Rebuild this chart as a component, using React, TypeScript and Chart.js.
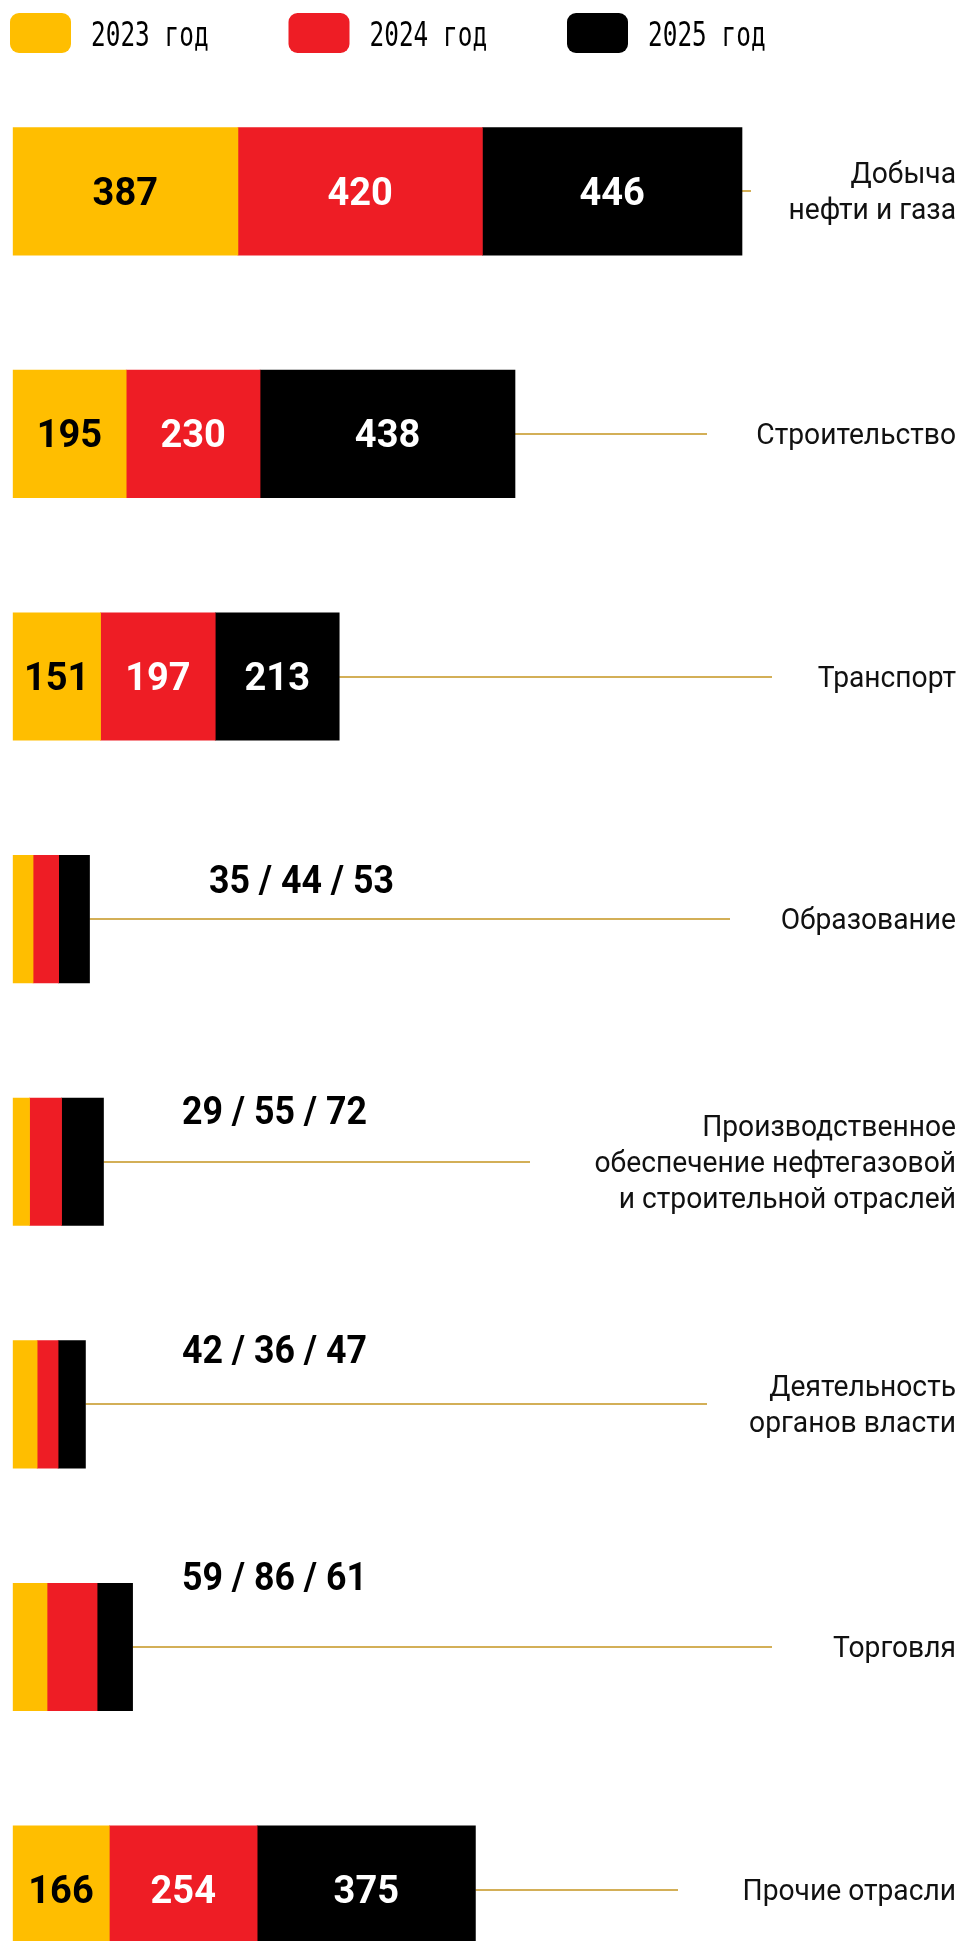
import React, { useEffect, useRef } from 'react';
import { Chart, registerables } from 'chart.js';

Chart.register(...registerables);

// ---------- DATA ----------
const categories: string[][] = [
  ['Добыча', 'нефти и газа'],
  ['Строительство'],
  ['Транспорт'],
  ['Образование'],
  ['Производственное', 'обеспечение нефтегазовой', 'и строительной отраслей'],
  ['Деятельность', 'органов власти'],
  ['Торговля'],
  ['Прочие отрасли'],
];
const seriesLabels = ['2023 год', '2024 год', '2025 год'];
const values2023 = [387, 195, 151, 35, 29, 42, 59, 166];
const values2024 = [420, 230, 197, 44, 55, 36, 86, 254];
const values2025 = [446, 438, 213, 53, 72, 47, 61, 375];
const series = [values2023, values2024, values2025];

// ---------- STYLE / LAYOUT ----------
const colors = ['#FFBE00', '#EE1D25', '#000000'];
const valueTextColors = ['#000000', '#FFFFFF', '#FFFFFF'];
const connectorColor = '#D3AF57';
// right end (px) of each connector line
const connectorEnds = [751, 707, 772, 730, 530, 707, 772, 678];
// combined label placement for narrow bars: [left x, offset of text centre from bar centre]
const comboLabelPos: ([number, number] | null)[] = [
  null, null, null, [209, -40], [182, -51], [182, -55], [182, -70], null,
];

const overlay = {
  id: 'overlay',
  beforeDatasetsDraw(chart: any) {
    const ctx = chart.ctx as CanvasRenderingContext2D;
    const meta = chart.getDatasetMeta(2);
    ctx.save();
    ctx.strokeStyle = connectorColor;
    ctx.lineWidth = 2;
    meta.data.forEach((el: any, i: number) => {
      const p = el.getProps(['x', 'y'], true);
      const y = Math.round(p.y);
      ctx.beginPath();
      ctx.moveTo(p.x, y);
      ctx.lineTo(connectorEnds[i], y);
      ctx.stroke();
    });
    ctx.restore();
  },
  afterDatasetsDraw(chart: any) {
    const ctx = chart.ctx as CanvasRenderingContext2D;
    const metas = [0, 1, 2].map((k) => chart.getDatasetMeta(k));
    ctx.save();
    ctx.textBaseline = 'alphabetic';
    metas[0].data.forEach((_: any, i: number) => {
      const bars = metas.map((m: any) => m.data[i].getProps(['x', 'base', 'y'], true));
      const cy = bars[0].y;
      const combo = comboLabelPos[i];
      ctx.font = 'bold 38px Roboto';
      if (combo) {
        ctx.save();
        ctx.translate(combo[0], cy + combo[1] + 13.5);
        ctx.scale(0.94, 1);
        ctx.textAlign = 'left';
        ctx.fillStyle = '#000000';
        ctx.fillText(`${series[0][i]} / ${series[1][i]} / ${series[2][i]}`, 0, 0);
        ctx.restore();
      } else {
        bars.forEach((b: any, k: number) => {
          ctx.textAlign = 'center';
          ctx.fillStyle = valueTextColors[k];
          ctx.fillText(String(series[k][i]), (b.x + b.base) / 2, cy + 13.5);
        });
      }
      // category label
      const lines = categories[i];
      ctx.save();
      ctx.translate(956, cy);
      ctx.scale(0.94, 1);
      ctx.font = '30px Roboto';
      ctx.fillStyle = '#111111';
      ctx.textAlign = 'right';
      lines.forEach((ln, j) => {
        ctx.fillText(ln, 0, (j - (lines.length - 1) / 2) * 36 + 10);
      });
      ctx.restore();
    });

    // legend
    for (let k = 0; k < 3; k++) {
      const sx = 10 + k * 278.5;
      ctx.fillStyle = colors[k];
      ctx.beginPath();
      (ctx as any).roundRect(sx, 13, 61, 40, 9);
      ctx.fill();
      ctx.save();
      ctx.translate(sx + 81, 46);
      ctx.scale(0.74, 1);
      ctx.font = '33px "DejaVu Sans Mono"';
      ctx.textAlign = 'left';
      ctx.fillStyle = '#000000';
      ctx.fillText(seriesLabels[k], 0, 0);
      ctx.restore();
    }
    ctx.restore();
  },
};

export default function App() {
  const ref = useRef<HTMLCanvasElement | null>(null);

  useEffect(() => {
    if (!ref.current) return;
    const chart = new Chart(ref.current, {
      type: 'bar',
      data: {
        datasets: [0, 1, 2].map((k) => ({
          label: seriesLabels[k],
          data: series[k].map((v, i) => ({ x: v, y: i })),
          backgroundColor: colors[k],
          borderWidth: 0,
          barThickness: 127.5,
        })),
      },
      options: {
        indexAxis: 'y',
        animation: false,
        responsive: false,
        devicePixelRatio: 1,
        layout: { padding: { left: 12.7, right: 0, top: 70, bottom: 0 } },
        scales: {
          x: {
            type: 'linear',
            stacked: true,
            min: 0,
            max: 1631,
            bounds: 'data',
            offset: false,
            grace: 0,
            display: false,
          },
          y: {
            type: 'linear',
            stacked: true,
            reverse: true,
            min: -0.5,
            max: 7.212,
            bounds: 'data',
            offset: false,
            grace: 0,
            display: false,
          },
        },
        plugins: {
          legend: { display: false },
          tooltip: { enabled: false },
        },
      } as any,
      plugins: [overlay],
    });
    return () => chart.destroy();
  }, []);

  return (
    <div style={{ position: 'absolute', left: 0, top: 0, width: 962, height: 1941, background: '#fff' }}>
      <canvas ref={ref} width={962} height={1941} style={{ display: 'block', width: 962, height: 1941 }} />
    </div>
  );
}
